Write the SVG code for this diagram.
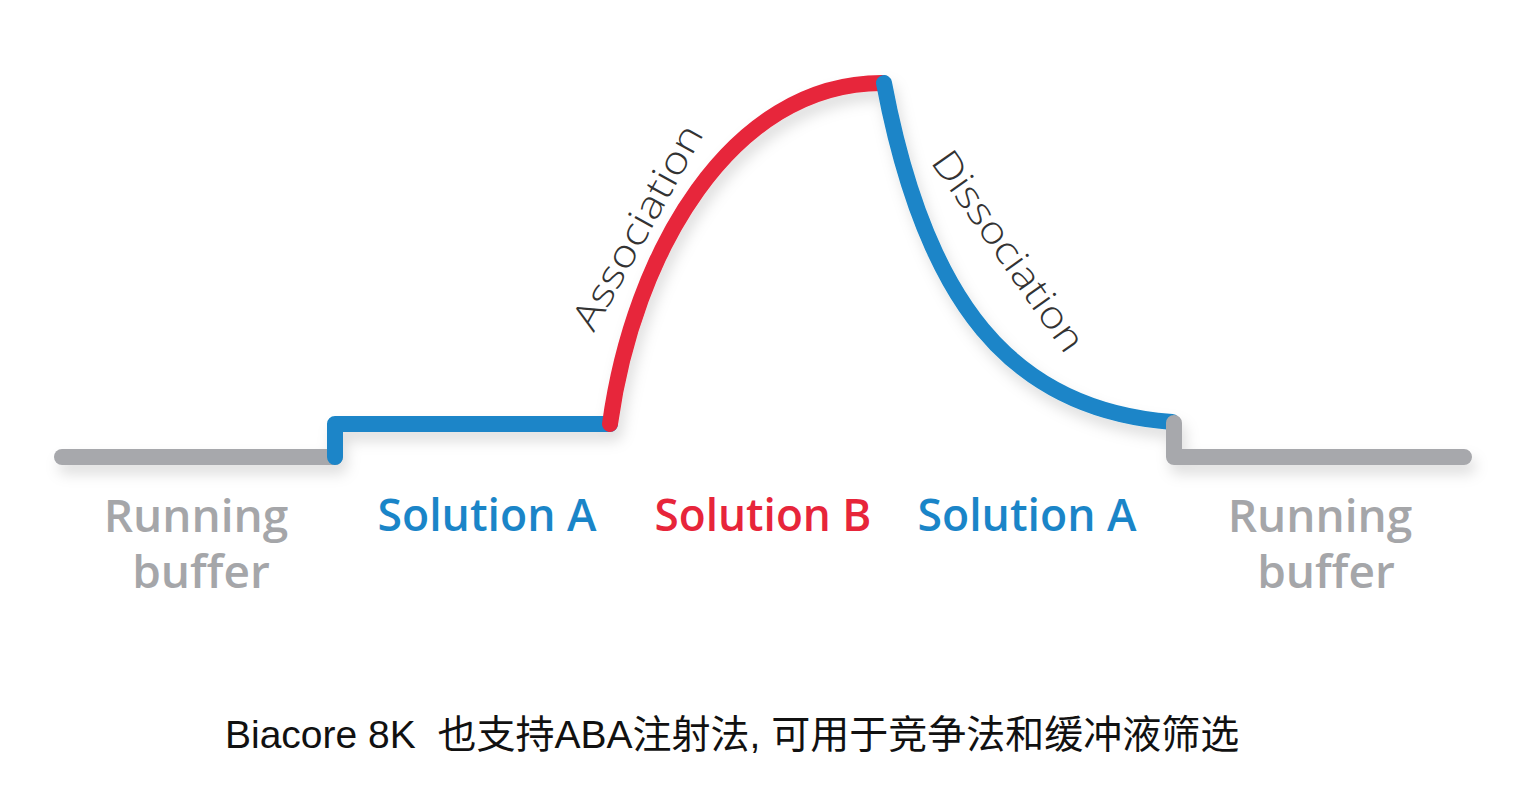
<svg xmlns="http://www.w3.org/2000/svg" width="1529" height="793" viewBox="0 0 1529 793">
<style>
.ln{fill:none;stroke-width:16;stroke-linecap:round;stroke-linejoin:round}
.g{stroke:#a7a8ac}.b{stroke:#1a85c8}.r{stroke:#e7253a}
.lbl{font-family:"Open Sans","Noto Sans",sans-serif;font-weight:600;font-size:46px;text-anchor:middle}
.phase{font-family:"Open Sans","Noto Sans",sans-serif;font-weight:300;font-size:38px;fill:#333;text-anchor:middle;dominant-baseline:central}
.cap{font-family:"Liberation Sans","Noto Sans CJK SC",sans-serif;font-size:39px;fill:#111}
</style>
<defs>
<filter id="sh" x="-10%" y="-20%" width="120%" height="150%">
<feDropShadow dx="4" dy="9" stdDeviation="7" flood-color="#000" flood-opacity="0.13"/>
</filter>
</defs>
<g id="connectors" filter="url(#sh)">
<path id="buffer-left" class="ln g" d="M62,457 H335"/>
<path id="solA-left" class="ln b" d="M335,457 V424 H610"/>
<path id="association" class="ln r" d="M610,424 C633,255 730,83 882,83"/>
<path id="dissociation" class="ln b" d="M884,83 C925,300 1010,410 1172,422"/>
<path id="buffer-right" class="ln g" d="M1174,423 V457 H1464"/>
</g>
<g id="label-association"><text class="phase" transform="translate(636,226) rotate(-61)" textLength="228" lengthAdjust="spacingAndGlyphs">Association</text></g>
<g id="label-dissociation"><text class="phase" transform="translate(1010,250) rotate(55)" textLength="236" lengthAdjust="spacingAndGlyphs">Dissociation</text></g>
<g id="node-running-buffer-left"><text class="lbl" fill="#a5a6a9" x="196" y="532">Running</text><text class="lbl" fill="#a5a6a9" x="201" y="588">buffer</text></g>
<g id="node-solution-a-left"><text class="lbl" fill="#1a85c8" x="487" y="531" textLength="219" lengthAdjust="spacingAndGlyphs">Solution A</text></g>
<g id="node-solution-b"><text class="lbl" fill="#e7253a" x="763" y="531" textLength="217" lengthAdjust="spacingAndGlyphs">Solution B</text></g>
<g id="node-solution-a-right"><text class="lbl" fill="#1a85c8" x="1027" y="531" textLength="219" lengthAdjust="spacingAndGlyphs">Solution A</text></g>
<g id="node-running-buffer-right"><text class="lbl" fill="#a5a6a9" x="1320" y="532">Running</text><text class="lbl" fill="#a5a6a9" x="1326" y="588">buffer</text></g>
<g id="caption"><text class="cap" x="225" y="748">Biacore 8K&#160;&#160;也支持ABA注射法, 可用于竞争法和缓冲液筛选</text></g>
</svg>
